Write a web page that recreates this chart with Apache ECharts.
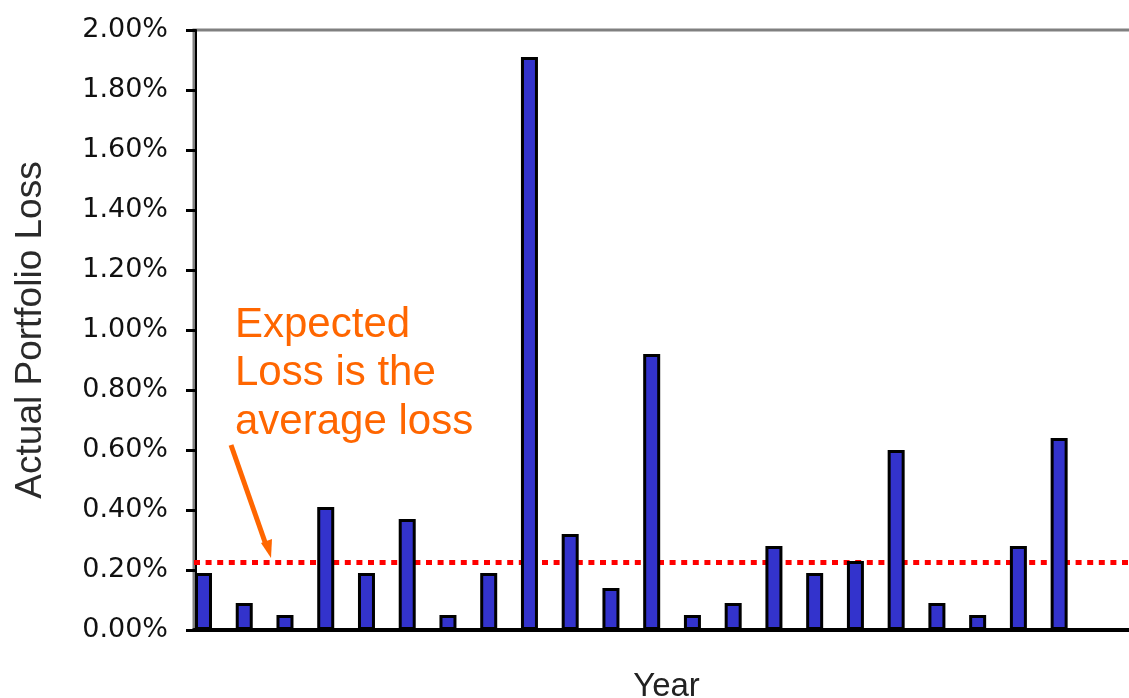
<!DOCTYPE html>
<html>
<head>
<meta charset="utf-8">
<script src="https://cdn.jsdelivr.net/npm/echarts@6/dist/echarts.min.js"></script>
<style>
  html, body { margin: 0; padding: 0; background: #ffffff; }
  #chart { width: 1129px; height: 698px; }
</style>
</head>
<body>
<div id="chart"></div>
<script>
// Year index of each observation (the axis carries no year labels)
const years = [1, 2, 3, 4, 5, 6, 7, 8, 9, 10, 11, 12, 13, 14, 15, 16, 17, 18, 19, 20, 21, 22];
// Realised portfolio loss per year, in percent
const lossPct = [0.19, 0.09, 0.05, 0.41, 0.19, 0.37, 0.05, 0.19, 1.91, 0.32, 0.14, 0.92,
                 0.05, 0.09, 0.28, 0.19, 0.23, 0.60, 0.09, 0.05, 0.28, 0.64];
// Expected (average) loss reference level, in percent
const expectedLossPct = 0.225;
// Y-axis tick values, in percent
const yTickValues = [0, 0.2, 0.4, 0.6, 0.8, 1.0, 1.2, 1.4, 1.6, 1.8, 2.0];

const xMin = 0.767;
const xMax = 23.96;

const chart = echarts.init(document.getElementById('chart'), null, { renderer: 'canvas' });

chart.setOption({
  animation: false,
  backgroundColor: '#ffffff',
  grid: {
    left: 194,
    right: -10,
    top: 30,
    bottom: 68,
    outerBoundsMode: 'none',
    containLabel: false,
    show: true,
    borderColor: '#808080',
    borderWidth: 3,
    backgroundColor: 'transparent'
  },
  xAxis: {
    type: 'value',
    min: xMin,
    max: xMax,
    name: 'Year',
    nameLocation: 'middle',
    nameGap: 40,
    nameTextStyle: {
      fontFamily: 'Liberation Sans, Arial, sans-serif',
      fontSize: 33,
      color: '#222222'
    },
    axisLine: { show: true, onZero: false, lineStyle: { color: '#000000', width: 4 } },
    axisTick: { show: false },
    axisLabel: { show: false },
    splitLine: { show: false }
  },
  yAxis: {
    type: 'value',
    min: yTickValues[0],
    max: yTickValues[yTickValues.length - 1],
    interval: yTickValues[1] - yTickValues[0],
    offset: -2,
    name: 'Actual Portfolio Loss',
    nameLocation: 'middle',
    nameGap: 147,
    nameTextStyle: {
      fontFamily: 'Liberation Sans, Arial, sans-serif',
      fontSize: 37,
      color: '#2a2a2a'
    },
    axisLine: { show: true, lineStyle: { color: '#000000', width: 2 } },
    axisTick: { show: true, inside: false, length: 10, lineStyle: { color: '#000000', width: 3 } },
    axisLabel: {
      margin: 28,
      fontFamily: 'DejaVu Sans, Verdana, sans-serif',
      fontSize: 27,
      color: '#111111',
      formatter: v => v.toFixed(2) + '%'
    },
    splitLine: { show: false }
  },
  series: [
    {
      name: 'Expected Loss',
      type: 'line',
      z: 1,
      silent: true,
      symbol: 'none',
      data: [[xMin, expectedLossPct], [xMax, expectedLossPct]],
      lineStyle: { color: '#ff0000', width: 5, type: [6, 5.6], cap: 'butt' }
    },
    {
      name: 'Actual Portfolio Loss',
      type: 'bar',
      z: 2,
      barWidth: 17,
      data: years.map((y, i) => [y, lossPct[i]]),
      itemStyle: { color: '#3333cc', borderColor: '#000000', borderWidth: 3 }
    }
  ],
  graphic: [
    {
      type: 'text',
      left: 235,
      top: 301,
      z: 10,
      style: {
        text: 'Expected\nLoss is the\naverage loss',
        fontFamily: 'Liberation Sans, Arial, sans-serif',
        fontSize: 42,
        lineHeight: 48.5,
        fill: '#ff6600'
      }
    },
    {
      type: 'line',
      z: 10,
      shape: { x1: 231, y1: 445, x2: 266, y2: 545 },
      style: { stroke: '#ff6600', lineWidth: 5 }
    },
    {
      type: 'polygon',
      z: 10,
      shape: { points: [[261, 543], [272, 539], [271, 558]] },
      style: { fill: '#ff6600' }
    }
  ]
});
</script>
</body>
</html>
